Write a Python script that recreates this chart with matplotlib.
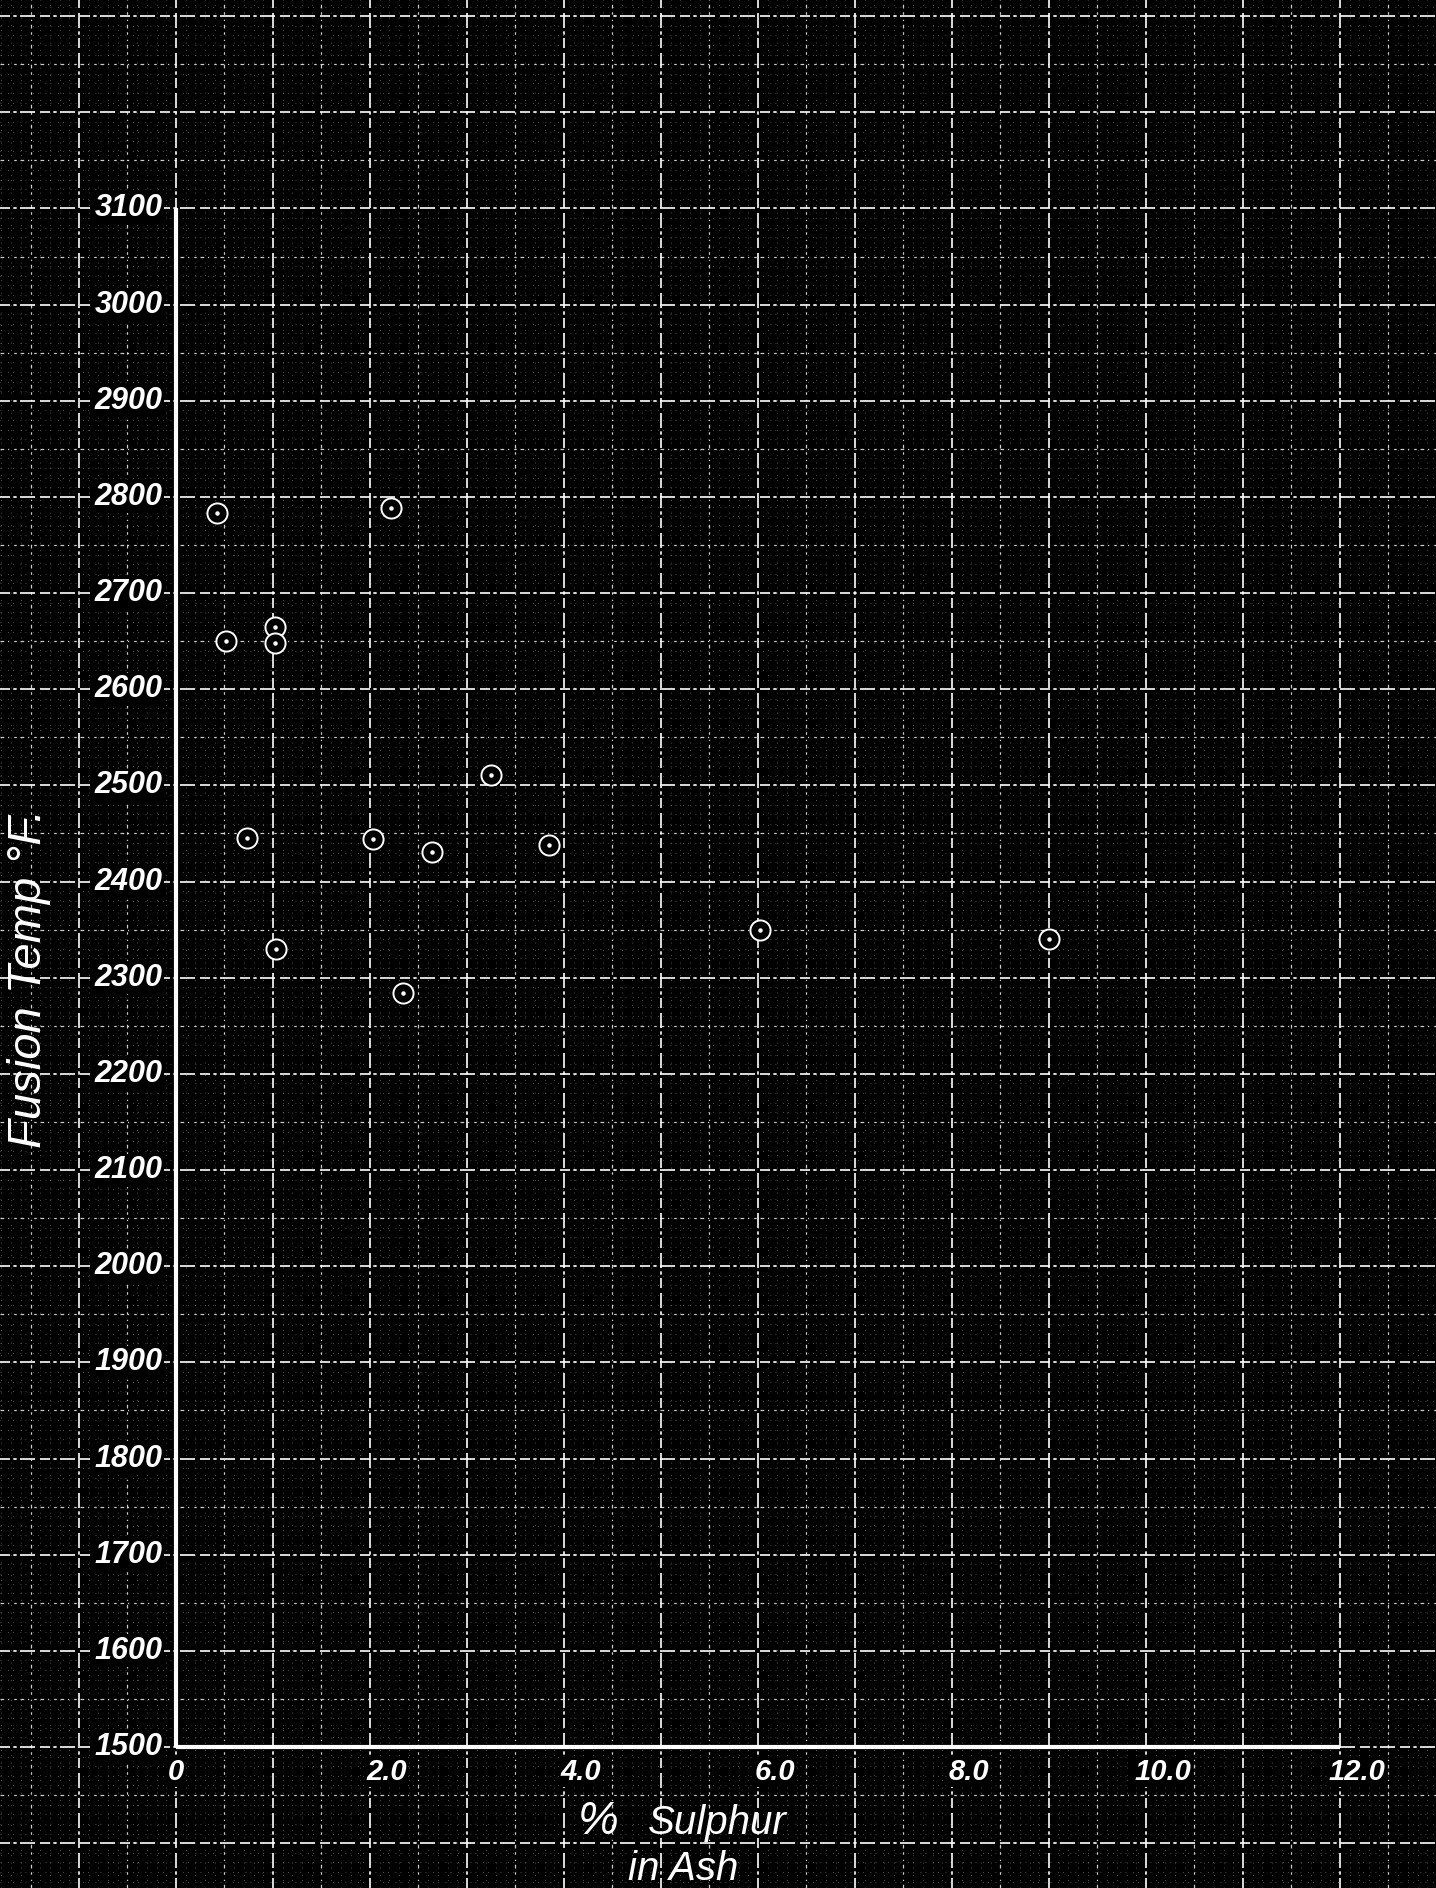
import numpy as np
import matplotlib
matplotlib.use("Agg")
import matplotlib.pyplot as plt

# % sulphur in ash vs. ash fusion temperature (deg F)
sulphur = [0.42, 0.52, 0.73, 1.02, 1.02, 1.03, 2.03, 2.22, 2.34, 2.64, 3.25, 3.85, 6.02, 9.0]
fusion_temp = [2783, 2650, 2445, 2665, 2648, 2330, 2444, 2788, 2284, 2431, 2511, 2438, 2350, 2340]

x_ticks = [0, 2, 4, 6, 8, 10, 12]
x_tick_labels = ["0", "2.0", "4.0", "6.0", "8.0", "10.0", "12.0"]
y_ticks = list(range(1500, 3200, 100))
y_tick_labels = [str(v) for v in y_ticks]

INK = "white"
FONT = "Liberation Sans"

fig = plt.figure(figsize=(14.36, 18.88), dpi=100, facecolor="black")
ax = fig.add_axes([0, 0, 1, 1], facecolor="black")

# the sheet is graph paper, so the data area runs to the edges of the figure
xmin, xmax = -176 / 97.0, (1436 - 176) / 97.0
ymin, ymax = 1500 - 141 / 0.9616, 1500 + 1747 / 0.9616
ax.set_xlim(xmin, xmax)
ax.set_ylim(ymin, ymax)
ax.set_axis_off()

# graph paper: fine rulings every 0.1 / 10, heavier at 0.5 / 50, heaviest at 1.0 / 100
fine_x = np.arange(np.ceil(xmin * 10), xmax * 10 + 1) / 10.0
fine_y = np.arange(np.ceil(ymin / 10) * 10, ymax + 10, 10)
ax.vlines([v for v in fine_x if round(v * 10) % 5], ymin, ymax, colors=INK,
          linewidth=0.6, linestyles=(0, (1, 8, 1, 5)), alpha=0.4, zorder=1)
ax.hlines([v for v in fine_y if round(v) % 50], xmin, xmax, colors=INK,
          linewidth=0.6, linestyles=(0, (1, 8, 1, 5)), alpha=0.4, zorder=1)

half_x = [v for v in np.arange(np.ceil(xmin * 2), xmax * 2 + 1) / 2.0 if v % 1]
half_y = [v for v in np.arange(np.ceil(ymin / 50) * 50, ymax + 50, 50) if v % 100]
ax.vlines(half_x, ymin, ymax, colors=INK, linewidth=0.9,
          linestyles=(0, (3, 3, 1, 4, 2, 3)), alpha=0.8, zorder=1)
ax.hlines(half_y, xmin, xmax, colors=INK, linewidth=0.9,
          linestyles=(0, (3, 3, 1, 4, 2, 3)), alpha=0.8, zorder=1)

major_x = np.arange(np.ceil(xmin), xmax + 1)
major_y = np.arange(np.ceil(ymin / 100) * 100, ymax + 100, 100)
ax.vlines(major_x, ymin, ymax, colors=INK, linewidth=1.2,
          linestyles=(0, (6, 2, 2, 2, 9, 3)), zorder=1)
ax.hlines(major_y, xmin, xmax, colors=INK, linewidth=1.2,
          linestyles=(0, (6, 2, 2, 2, 9, 3)), zorder=1)

# main axes drawn in heavy ink
ax.plot([0, 12], [1500, 1500], color=INK, linewidth=3.0, solid_capstyle="butt", zorder=3)
ax.plot([0, 0], [1500, 3100], color=INK, linewidth=3.0, solid_capstyle="butt", zorder=3)

# hand-lettered scale figures
for v, lab in zip(y_ticks, y_tick_labels):
    ax.text(-0.14, v, lab, color=INK, fontsize=22, family=FONT, style="italic",
            weight="bold", ha="right", va="center", zorder=4,
            bbox=dict(boxstyle="square,pad=0.05", fc="black", ec="none"))
for v, lab in zip(x_ticks, x_tick_labels):
    dx = 0 if v == 0 else 0.17
    ax.text(v + dx, 1474, lab, color=INK, fontsize=21, family=FONT, style="italic",
            weight="bold", ha="center", va="center", zorder=4,
            bbox=dict(boxstyle="square,pad=0.05", fc="black", ec="none"))

# observations: ringed points
ax.plot(sulphur, fusion_temp, linestyle="none", marker="o", markersize=14.5,
        markerfacecolor="black", markeredgecolor=INK, markeredgewidth=1.4, zorder=5)
ax.plot(sulphur, fusion_temp, linestyle="none", marker="o", markersize=2.2,
        color=INK, zorder=6)

# axis titles
fig.text(578 / 1436, 1 - 1834 / 1888, "%", color=INK, fontsize=33, family=FONT,
         style="italic", ha="left", va="baseline")
fig.text(648 / 1436, 1 - 1834 / 1888, "Sulphur", color=INK, fontsize=29, family=FONT,
         style="italic", ha="left", va="baseline")
fig.text(628 / 1436, 1 - 1880 / 1888, "in Ash", color=INK, fontsize=29, family=FONT,
         style="italic", ha="left", va="baseline")
fig.text(29 / 1436, 1 - 978 / 1888, "Fusion Temp \u00b0F.", color=INK, fontsize=34,
         family=FONT, style="italic", rotation=90, ha="center", va="center")

fig.savefig("out.png", dpi=100, facecolor="black")
